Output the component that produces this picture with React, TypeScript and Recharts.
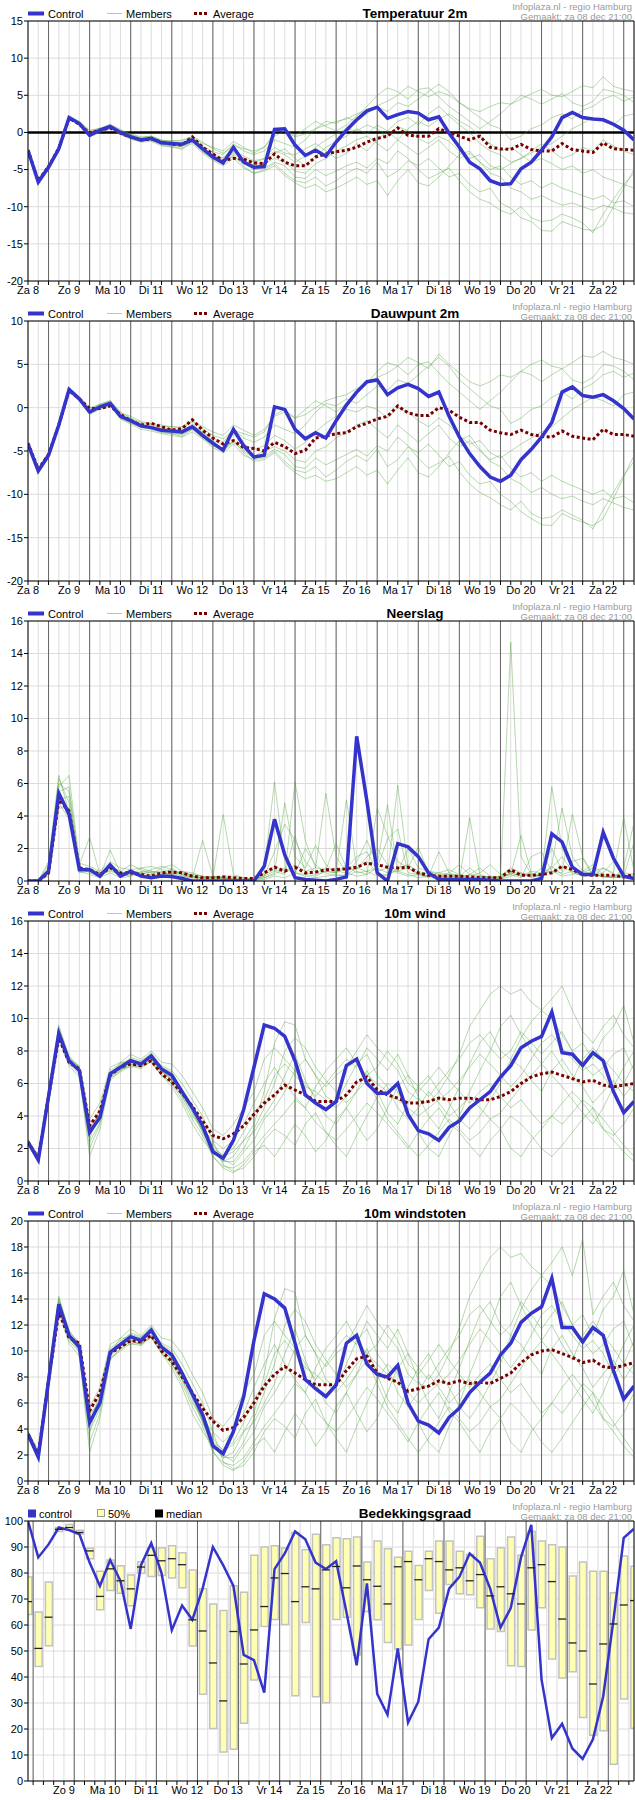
import React from 'react';
import { ComposedChart, Line, XAxis, YAxis, CartesianGrid, ReferenceLine, Bar, Scatter } from 'recharts';

// ---------- axes / labels ----------
const STEPS = Array.from({ length: 60 }, (_, i) => i);
const HALF_STEPS = Array.from({ length: 59 }, (_, i) => i + 0.5);
const DAY_LABELS = ['Za 8', 'Zo 9', 'Ma 10', 'Di 11', 'Wo 12', 'Do 13', 'Vr 14', 'Za 15', 'Zo 16', 'Ma 17', 'Di 18', 'Wo 19', 'Do 20', 'Vr 21', 'Za 22'];
const MIDNIGHTS = [2, 6, 10, 14, 18, 22, 26, 30, 34, 38, 42, 46, 50, 54, 58];
const COVER_MIDNIGHTS = [0.5, 4.5, 8.5, 12.5, 16.5, 20.5, 24.5, 28.5, 32.5, 36.5, 40.5, 44.5, 48.5, 52.5, 56.5];

const TEMP_TICKS = [-20, -15, -10, -5, 0, 5, 10, 15];
const DEW_TICKS = [-20, -15, -10, -5, 0, 5, 10];
const RAIN_TICKS = [0, 2, 4, 6, 8, 10, 12, 14, 16];
const WIND_TICKS = [0, 2, 4, 6, 8, 10, 12, 14, 16];
const GUST_TICKS = [0, 2, 4, 6, 8, 10, 12, 14, 16, 18, 20];
const COVER_TICKS = [0, 10, 20, 30, 40, 50, 60, 70, 80, 90, 100];

// ---------- Temperatuur 2m ----------
const tempControl = [-2.4, -6.7, -4.7, -2.2, 2.0, 1.2, -0.4, 0.3, 0.8, 0,
  -0.6, -1.0, -0.8, -1.4, -1.5, -1.6, -1.0, -2.2, -3.3, -4.1,
  -2.0, -4.0, -4.7, -4.6, 0.4, 0.5, -1.7, -3.1, -2.4, -3.2,
  -1.3, 0.3, 1.7, 2.9, 3.4, 1.9, 2.4, 2.8, 2.6, 1.7,
  2.1, -0.1, -2.0, -4.0, -4.9, -6.5, -7.0, -6.9, -4.9, -4.0,
  -2.4, -0.6, 2.0, 2.7, 2.0, 1.8, 1.7, 1.1, 0.3, -1.0];
const tempAverage = [-2.4, -6.5, -4.6, -2.1, 1.9, 1.1, -0.1, 0.3, 0.6, -0.1,
  -0.6, -1.0, -0.9, -1.3, -1.6, -1.7, -0.6, -2.0, -2.9, -3.8,
  -3.5, -3.6, -4.1, -4.2, -2.9, -4.0, -4.5, -4.5, -3.3, -2.9,
  -2.6, -2.4, -2.0, -1.3, -0.8, -0.5, 0.6, -0.4, -0.5, -0.5,
  0.5, 0.0, -0.5, -1.0, -0.5, -2.0, -2.2, -2.3, -1.6, -2.3,
  -2.5, -2.5, -1.5, -2.3, -2.5, -2.7, -1.4, -2.2, -2.3, -2.4];
const tempM1 = [-2.3, -6.2, -4.4, -2.0, 2.1, 1.4, 0.2, 0.6, 1.0, 0.3,
  -0.2, -0.6, -0.5, -1.0, -1.2, -1.0, -0.6, -1.5, -2.0, -2.5,
  -1.2, -2.0, -2.8, -2.0, -0.5, 0.2, -0.6, -0.2, 0.5, 1.0,
  1.5, 1.8, 2.5, 3.0, 3.6, 4.2, 5.0, 6.2, 5.5, 4.8,
  5.5, 5.0, 4.0, 3.2, 2.8, 3.5, 4.0, 3.8, 4.5, 5.2,
  5.8, 5.0, 4.8, 5.5, 6.3, 6.0, 7.5, 6.2, 5.8, 5.5];
const tempM2 = [-2.5, -6.9, -5.0, -2.5, 1.8, 1.0, -0.6, 0.0, 0.5, -0.3,
  -0.9, -1.3, -1.2, -1.8, -2.0, -2.1, -1.5, -2.8, -3.8, -4.5,
  -3.5, -4.8, -5.5, -5.0, -4.2, -5.5, -6.5, -6.8, -6.0, -7.2,
  -6.5, -5.5, -4.8, -5.5, -4.0, -6.0, -5.2, -3.8, -4.5, -3.5,
  -4.8, -6.0, -5.5, -7.0, -8.0, -7.5, -9.5, -10.2, -11.5, -12.0,
  -13.2, -13.3, -12.0, -12.5, -13.0, -13.2, -12.5, -10.0, -7.5, -5.0];
const tempM3 = [-2.2, -6.5, -4.6, -2.1, 2.2, 1.3, -0.2, 0.4, 0.9, 0.2,
  -0.4, -0.8, -0.6, -1.2, -1.3, -1.4, -0.8, -2.0, -3.0, -3.4,
  -2.2, -3.5, -4.0, -3.6, -2.5, -3.0, -4.0, -3.2, -2.0, -1.0,
  -0.2, 0.5, 0.2, 1.0, 0.5, -0.5, 0.8, 0.2, -0.8, -1.5,
  -0.5, -1.2, -2.5, -3.5, -3.0, -4.5, -5.0, -4.2, -3.5, -2.8,
  -2.0, -1.5, -0.5, 0.5, 1.2, 2.0, 1.5, 1.0, 2.2, 2.5];
const tempM4 = [-2.6, -6.6, -4.8, -2.3, 1.9, 1.1, -0.5, 0.2, 0.7, -0.2,
  -0.8, -1.2, -1.0, -1.7, -1.9, -2.3, -1.2, -2.6, -3.6, -4.2,
  -3.0, -4.6, -5.5, -5.2, -4.5, -5.8, -6.8, -7.5, -7.0, -8.0,
  -7.5, -6.8, -6.0, -7.0, -6.5, -8.5, -6.5, -5.0, -6.8, -7.2,
  -6.0, -4.5, -3.0, -2.5, -4.0, -5.5, -6.0, -7.5, -8.0, -9.0,
  -8.5, -9.2, -9.8, -9.5, -10.0, -10.5, -9.8, -10.2, -10.8, -11.0];
const tempM5 = [-2.4, -6.8, -4.7, -2.2, 2.0, 1.2, -0.3, 0.3, 0.7, 0.0,
  -0.5, -0.9, -0.7, -1.3, -1.4, -1.5, -0.7, -1.8, -2.6, -3.0,
  -1.5, -2.5, -3.0, -2.5, -1.0, -1.5, -2.0, -1.0, 0.5, 1.5,
  1.2, 2.0, 1.5, 2.5, 3.5, 2.8, 4.0, 3.5, 4.5, 5.5,
  6.5, 5.5, 4.0, 3.0, 2.0, 1.0, 0.5, -1.0, -0.5, 0.5,
  1.0, 2.0, 2.5, 1.8, 3.0, 3.5, 4.5, 5.0, 4.2, 4.8];
const tempM6 = [-2.4, -6.4, -4.5, -2.2, 2.1, 1.3, 0.0, 0.4, 0.8, 0.1,
  -0.6, -1.1, -0.9, -1.5, -1.7, -1.8, -1.2, -2.4, -3.2, -3.8,
  -2.8, -4.0, -4.8, -4.2, -3.5, -4.0, -5.2, -5.5, -4.2, -3.5,
  -2.5, -1.8, -1.0, -0.5, -1.5, -2.5, -1.0, -2.0, -3.0, -2.0,
  -1.0, -2.5, -3.5, -2.8, -4.0, -5.0, -4.5, -6.0, -7.0, -6.5,
  -7.5, -6.8, -7.5, -8.0, -8.5, -9.0, -8.5, -9.5, -9.2, -10.0];
const tempM7 = [-2.5, -6.6, -4.7, -2.4, 1.9, 1.1, -0.4, 0.1, 0.6, -0.2,
  -0.7, -1.2, -1.0, -1.6, -1.8, -1.9, -1.3, -2.6, -3.5, -4.0,
  -3.2, -4.2, -5.0, -4.8, -4.0, -4.5, -6.0, -6.2, -5.0, -5.8,
  -5.2, -4.5, -4.0, -4.8, -3.5, -4.2, -2.5, -3.5, -5.0, -6.2,
  -5.5, -4.8, -6.5, -8.0, -9.0, -9.5, -10.5, -11.0, -10.0, -11.5,
  -12.0, -11.8, -11.0, -11.5, -12.2, -13.5, -11.0, -9.0, -7.0, -5.5];
const tempM8 = [-2.3, -6.3, -4.5, -2.0, 2.2, 1.5, 0.3, 0.5, 1.1, 0.4,
  -0.3, -0.7, -0.5, -1.1, -1.1, -1.2, -0.5, -1.3, -2.2, -2.8,
  -1.8, -2.2, -2.5, -2.0, 0.0, 0.5, -0.5, 0.5, 1.5, 0.8,
  0.2, 1.0, 2.2, 3.5, 5.0, 6.0, 5.5, 4.5, 5.8, 6.0,
  4.8, 3.5, 2.5, 1.5, 0.5, 1.5, 2.5, 3.8, 5.0, 4.5,
  3.8, 4.5, 5.2, 4.0, 3.5, 4.2, 5.8, 5.5, 5.0, 4.0];
const tempM9 = [-2.4, -6.5, -4.6, -2.3, 2.0, 1.2, -0.2, 0.3, 0.9, 0.1,
  -0.6, -1.0, -0.8, -1.4, -1.6, -1.6, -0.9, -2.2, -3.3, -3.9,
  -2.6, -3.8, -4.4, -4.0, -2.8, -2.2, -3.5, -4.5, -3.2, -2.0,
  -1.2, -0.5, 0.5, -0.2, 1.0, 0.2, -1.0, 0.5, 1.5, 0.8,
  1.8, 2.5, 1.5, 0.8, -0.5, -1.5, -2.5, -2.0, -3.0, -4.0,
  -3.5, -4.2, -5.0, -4.5, -5.5, -5.0, -6.0, -6.5, -7.0, -7.5];
const tempM10 = [-2.5, -6.7, -4.8, -2.1, 2.1, 1.2, -0.3, 0.2, 0.8, 0.0,
  -0.5, -1.0, -0.9, -1.5, -1.5, -1.7, -1.0, -2.4, -3.2, -3.6,
  -2.3, -3.2, -3.8, -3.5, -2.0, -2.8, -3.0, -2.2, -1.5, -2.5,
  -3.5, -2.8, -1.5, -2.5, -1.0, 0.2, 1.5, 2.0, 1.0, 2.5,
  3.5, 2.2, 1.0, 0.0, -1.5, -2.5, -3.0, -4.0, -3.5, -2.5,
  -1.5, -2.5, -3.5, -3.0, -2.0, -2.5, -1.0, -1.8, -2.5, -3.0];

// ---------- Dauwpunt 2m ----------
const dewControl = [-4.2, -7.3, -5.5, -2.0, 2.1, 1.0, -0.5, 0.1, 0.5, -1.0,
  -1.5, -2.1, -2.3, -2.6, -2.7, -2.8, -2.2, -3.2, -4.1, -4.9,
  -2.5, -4.4, -5.7, -5.5, 0.1, -0.2, -2.5, -3.6, -2.9, -3.5,
  -1.5, 0.3, 1.8, 3.0, 3.2, 1.5, 2.3, 2.7, 2.2, 1.3,
  1.8, -1.0, -3.4, -5.3, -6.8, -8.0, -8.5, -7.8, -6.0, -4.8,
  -3.4, -1.7, 1.8, 2.4, 1.4, 1.2, 1.5, 0.8, -0.1, -1.3];
const dewAverage = [-4.1, -7.1, -5.4, -2.0, 2.0, 1.0, -0.1, -0.1, 0.2, -0.8,
  -1.5, -2.0, -1.8, -2.2, -2.6, -2.4, -1.4, -2.6, -3.5, -4.2,
  -3.8, -4.6, -4.7, -5.0, -4.0, -4.5, -5.3, -4.9, -3.5, -3.3,
  -3.0, -2.9, -2.2, -1.8, -1.3, -1.0, 0.2, -0.6, -0.9, -0.9,
  0.0, -0.3, -1.1, -1.7, -1.7, -2.6, -2.9, -3.1, -2.6, -3.1,
  -3.3, -3.4, -2.7, -3.3, -3.5, -3.7, -2.5, -3.1, -3.1, -3.3];
const dewM1 = [-4.0, -7.0, -5.2, -1.8, 2.2, 1.2, -0.2, 0.4, 0.8, -0.6,
  -1.0, -1.6, -1.8, -2.0, -2.2, -2.2, -1.5, -2.2, -2.8, -3.2,
  -2.0, -2.6, -3.2, -2.5, -1.0, -0.5, -1.2, -0.8, 0.0, 0.8,
  1.2, 1.5, 2.2, 2.8, 3.5, 4.0, 4.8, 5.8, 5.2, 4.5,
  6.2, 5.0, 4.0, 3.0, 2.5, 3.0, 3.8, 3.5, 4.2, 5.0,
  5.5, 4.8, 4.5, 5.2, 6.0, 5.8, 6.5, 5.8, 5.5, 5.0];
const dewM2 = [-4.4, -7.6, -5.8, -2.4, 1.8, 0.8, -0.8, -0.2, 0.2, -1.3,
  -1.9, -2.5, -2.7, -3.0, -3.2, -3.4, -2.8, -3.6, -4.6, -5.2,
  -4.2, -5.5, -6.0, -5.8, -5.0, -6.2, -7.2, -7.5, -6.8, -8.0,
  -7.2, -6.2, -5.5, -6.2, -4.8, -6.8, -6.0, -4.5, -5.2, -4.2,
  -5.5, -6.8, -6.2, -7.8, -8.8, -8.5, -10.0, -10.8, -12.0, -12.8,
  -13.5, -13.6, -12.2, -12.8, -13.2, -13.6, -12.8, -10.5, -8.0, -5.5];
const dewM3 = [-4.1, -7.2, -5.4, -2.0, 2.2, 1.1, -0.4, 0.2, 0.6, -0.9,
  -1.3, -1.9, -2.1, -2.4, -2.5, -2.6, -1.9, -2.9, -3.8, -4.3,
  -3.0, -4.2, -4.8, -4.4, -3.2, -3.8, -4.8, -4.0, -2.8, -1.8,
  -1.0, -0.2, -0.5, 0.2, -0.2, -1.2, 0.0, -0.5, -1.5, -2.2,
  -1.2, -2.0, -3.2, -4.2, -3.8, -5.2, -5.8, -5.0, -4.2, -3.5,
  -2.8, -2.2, -1.2, -0.2, 0.5, 1.2, 0.8, 0.2, 1.5, 1.8];
const dewM4 = [-4.3, -7.4, -5.6, -2.2, 1.9, 0.9, -0.7, 0.0, 0.3, -1.2,
  -1.8, -2.3, -2.5, -2.9, -3.0, -3.3, -2.5, -3.4, -4.4, -5.0,
  -3.8, -5.2, -6.2, -6.0, -5.2, -6.5, -7.5, -8.2, -7.8, -8.5,
  -8.2, -7.5, -6.8, -7.8, -7.2, -8.8, -7.2, -5.8, -7.5, -8.0,
  -6.8, -5.2, -3.8, -3.2, -4.8, -6.2, -6.8, -8.2, -8.8, -9.8,
  -9.2, -10.0, -10.5, -10.2, -10.8, -11.2, -10.5, -11.0, -11.5, -11.8];
const dewM5 = [-4.2, -7.3, -5.5, -2.1, 2.0, 1.0, -0.5, 0.1, 0.4, -1.0,
  -1.4, -2.0, -2.2, -2.5, -2.6, -2.7, -2.0, -2.8, -3.5, -4.0,
  -2.5, -3.5, -4.0, -3.4, -2.0, -2.5, -3.0, -2.0, -0.5, 0.5,
  0.2, 1.0, 0.5, 1.5, 2.5, 2.0, 3.2, 2.8, 3.8, 4.8,
  5.8, 4.8, 3.2, 2.2, 1.2, 0.2, -0.2, -1.8, -1.2, -0.2,
  0.2, 1.2, 1.8, 1.0, 2.2, 2.8, 3.8, 4.2, 3.5, 4.0];
const dewM6 = [-4.1, -7.1, -5.3, -2.0, 2.1, 1.1, -0.3, 0.3, 0.5, -0.9,
  -1.6, -2.2, -2.4, -2.7, -2.9, -3.0, -2.4, -3.3, -4.1, -4.8,
  -3.8, -4.8, -5.6, -5.0, -4.5, -5.0, -6.0, -6.3, -5.0, -4.5,
  -3.5, -2.8, -2.0, -1.5, -2.5, -3.5, -2.0, -3.0, -4.0, -3.0,
  -2.0, -3.5, -4.5, -3.8, -5.0, -6.0, -5.5, -7.0, -8.0, -7.5,
  -8.5, -7.8, -8.5, -9.0, -9.5, -10.0, -9.5, -10.5, -10.2, -11.0];
const dewM7 = [-4.3, -7.2, -5.6, -2.3, 1.9, 0.9, -0.6, -0.1, 0.3, -1.2,
  -1.7, -2.2, -2.4, -2.8, -3.0, -3.1, -2.5, -3.5, -4.4, -4.9,
  -4.0, -5.0, -5.8, -5.6, -4.8, -5.4, -6.8, -7.0, -5.8, -6.6,
  -6.0, -5.4, -4.8, -5.6, -4.4, -5.0, -3.4, -4.4, -5.8, -7.0,
  -6.4, -5.6, -7.4, -8.8, -9.8, -10.4, -11.2, -11.8, -10.8, -12.2,
  -12.8, -12.6, -11.8, -12.4, -13.0, -14.0, -11.8, -9.8, -7.8, -6.2];
const dewM8 = [-4.0, -7.0, -5.3, -1.9, 2.3, 1.3, 0.0, 0.4, 0.8, -0.5,
  -1.2, -1.7, -1.9, -2.2, -2.2, -2.4, -1.6, -2.4, -3.2, -3.6,
  -2.6, -3.0, -3.4, -2.8, -0.8, -0.2, -1.2, -0.2, 0.8, 0.2,
  -0.5, 0.5, 1.6, 2.8, 4.2, 5.2, 4.8, 3.8, 5.0, 5.3,
  4.0, 2.8, 1.8, 0.8, -0.2, 0.8, 1.8, 3.0, 4.2, 3.8,
  3.0, 3.8, 4.5, 3.2, 2.8, 3.5, 5.0, 4.8, 4.2, 3.2];

// ---------- Neerslag ----------
const rainControl = [0, 0, 0.6, 5.4, 4.1, 0.7, 0.7, 0.3, 1.0, 0.3,
  0.6, 0.3, 0.2, 0.3, 0.27, 0.15, 0, 0, 0, 0,
  0, 0, 0, 0.9, 3.8, 1.6, 0.2, 0.1, 0.05, 0,
  0.1, 0.25, 8.9, 4.9, 0.5, 0, 2.3, 2.1, 1.5, 0.5,
  0.1, 0.1, 0.1, 0.1, 0.1, 0.05, 0, 0, 0, 0,
  0.15, 2.9, 2.4, 0.85, 0.4, 0.4, 3.0, 1.4, 0.3, 0.15];
const rainAverage = [0, 0, 0.5, 5.0, 4.3, 0.8, 0.7, 0.4, 0.8, 0.5,
  0.5, 0.4, 0.3, 0.5, 0.55, 0.5, 0.3, 0.2, 0.2, 0.25,
  0.2, 0.15, 0.15, 0.5, 0.85, 0.6, 0.85, 0.5, 0.55, 0.7,
  0.7, 0.75, 0.85, 1.1, 1.0, 0.85, 0.8, 0.85, 0.5, 0.35,
  0.3, 0.3, 0.3, 0.25, 0.2, 0.2, 0.2, 0.7, 0.35, 0.35,
  0.4, 0.5, 0.9, 0.7, 0.4, 0.35, 0.35, 0.35, 0.25, 0.4];
const rainM1 = [0, 0, 0.8, 6.3, 4.8, 0.9, 0.6, 0.3, 1.9, 0.5,
  0.6, 0.5, 0.4, 0.8, 1.0, 0.6, 0.3, 0.2, 0.1, 0.2,
  0.1, 0.0, 0.0, 0.8, 6.1, 1.2, 0.5, 0.4, 0.3, 0.6,
  0.5, 0.8, 0.7, 1.5, 2.0, 1.0, 0.6, 0.8, 0.4, 0.2,
  0.2, 0.3, 0.2, 0.1, 0.1, 0.0, 0.1, 14.7, 1.5, 0.4,
  0.2, 0.8, 1.5, 0.6, 0.3, 0.5, 0.2, 0.3, 0.2, 0.4];
const rainM2 = [0, 0, 0.4, 5.5, 5.8, 1.0, 2.7, 0.4, 0.6, 0.4,
  0.3, 0.8, 0.6, 0.5, 0.3, 0.3, 0.2, 2.5, 0.3, 0.1,
  0.0, 0.1, 0.0, 0.2, 0.5, 4.8, 1.5, 0.8, 2.2, 1.0,
  0.5, 5.0, 0.8, 0.6, 0.3, 0.4, 5.9, 0.8, 0.5, 0.3,
  0.5, 0.4, 0.3, 0.8, 0.3, 0.2, 0.2, 0.4, 2.8, 0.5,
  0.3, 1.0, 4.5, 1.5, 0.6, 0.4, 0.3, 0.2, 0.8, 3.6];
const rainM3 = [0, 0, 1.2, 6.5, 4.2, 0.7, 0.8, 0.5, 0.9, 0.6,
  1.0, 0.7, 0.5, 0.3, 0.8, 0.4, 0.3, 0.2, 0.2, 4.1,
  0.4, 0.2, 0.1, 0.3, 0.6, 0.4, 6.1, 2.5, 0.8, 5.4,
  1.5, 0.5, 0.3, 0.4, 4.5, 2.8, 1.2, 0.8, 2.1, 0.5,
  0.3, 0.2, 0.1, 3.9, 0.4, 0.2, 0.1, 0.3, 0.5, 0.2,
  0.4, 5.8, 2.0, 0.8, 0.4, 0.3, 0.5, 1.2, 0.4, 0.2];
const rainM4 = [0, 0, 0.6, 4.8, 3.8, 0.8, 0.5, 0.3, 0.7, 0.3,
  0.4, 0.3, 0.3, 0.4, 0.5, 0.3, 0.2, 0.1, 0.2, 0.1,
  0.1, 0.0, 0.1, 0.3, 1.8, 3.5, 2.5, 1.2, 0.5, 0.8,
  0.6, 0.5, 1.2, 2.5, 1.0, 4.7, 0.6, 2.0, 0.8, 0.6,
  0.4, 0.3, 0.2, 0.4, 0.8, 0.3, 0.2, 0.5, 0.3, 0.6,
  0.5, 2.0, 0.6, 4.1, 1.5, 0.4, 0.3, 0.2, 0.3, 0.2];
const rainM5 = [0, 0, 0.3, 5.0, 5.2, 0.6, 0.4, 0.2, 0.5, 0.2,
  0.3, 0.6, 0.5, 0.6, 0.4, 0.5, 0.3, 0.2, 0.3, 0.2,
  0.1, 0.1, 0.0, 0.1, 0.3, 0.2, 0.5, 0.3, 0.2, 0.3,
  0.4, 0.3, 0.6, 0.4, 0.8, 0.5, 0.6, 0.4, 0.2, 0.3,
  1.8, 0.5, 0.3, 0.2, 0.3, 0.2, 0.3, 0.8, 0.5, 0.3,
  0.4, 0.6, 0.5, 1.2, 1.4, 0.3, 0.8, 0.4, 0.2, 0.3];
const rainM6 = [0, 0, 1.0, 5.8, 6.5, 1.1, 0.9, 0.6, 1.2, 0.8,
  0.7, 0.8, 0.9, 0.7, 0.6, 0.5, 0.4, 0.3, 0.2, 0.3,
  0.3, 0.2, 0.1, 0.5, 0.9, 0.6, 1.0, 0.6, 0.8, 0.7,
  2.3, 0.8, 1.5, 1.8, 0.6, 0.8, 0.5, 0.3, 0.4, 0.6,
  0.5, 0.7, 0.4, 0.3, 0.5, 1.0, 0.4, 0.6, 0.4, 0.3,
  0.8, 0.5, 0.9, 0.5, 0.3, 0.6, 0.8, 0.5, 3.9, 0.6];
const rainM7 = [0, 0, 0.5, 4.5, 4.5, 0.5, 0.6, 0.4, 0.8, 0.5,
  0.5, 0.4, 0.6, 0.5, 0.4, 0.6, 0.5, 0.3, 0.2, 0.2,
  0.2, 0.1, 0.1, 0.2, 0.4, 0.8, 0.4, 2.0, 1.0, 0.5,
  0.3, 0.4, 0.8, 1.2, 0.5, 0.3, 0.8, 1.0, 0.6, 0.4,
  0.3, 0.5, 1.0, 0.4, 0.3, 0.2, 0.3, 0.4, 0.2, 1.5,
  1.8, 0.6, 0.3, 0.4, 0.6, 1.0, 0.4, 0.3, 0.5, 0.4];
const rainM8 = [0, 0, 0.7, 6.0, 5.5, 0.8, 0.7, 0.3, 1.0, 0.4,
  0.5, 0.5, 0.7, 0.9, 0.7, 0.4, 0.2, 0.2, 0.3, 0.2,
  0.1, 0.1, 0.1, 0.4, 0.7, 0.5, 2.8, 0.5, 0.4, 0.6,
  0.5, 1.0, 0.5, 0.6, 0.8, 2.6, 3.2, 0.5, 0.4, 0.3,
  0.2, 0.4, 0.3, 0.2, 0.2, 0.3, 0.1, 0.5, 0.3, 0.4,
  0.3, 0.9, 0.4, 0.6, 0.5, 0.8, 0.3, 0.2, 0.3, 2.4];

// ---------- 10m wind ----------
const windControl = [2.4, 1.3, 5.2, 9.1, 7.4, 6.8, 3.0, 3.9, 6.6, 7.0,
  7.4, 7.2, 7.7, 6.9, 6.5, 5.5, 4.5, 3.4, 1.8, 1.4,
  2.5, 4.4, 7.0, 9.6, 9.4, 8.9, 7.4, 5.3, 4.8, 4.4,
  4.9, 7.1, 7.5, 6.0, 5.4, 5.4, 6.0, 4.1, 3.1, 2.9,
  2.5, 3.3, 3.7, 4.5, 5.0, 5.5, 6.4, 7.1, 8.2, 8.6,
  8.9, 10.4, 7.9, 7.8, 7.1, 7.9, 7.4, 5.5, 4.2, 4.9];
const windAverage = [2.4, 1.4, 5.2, 8.8, 7.3, 6.9, 3.4, 4.3, 6.5, 7.0,
  7.2, 7.1, 7.4, 6.6, 6.1, 5.4, 4.6, 3.7, 2.8, 2.6,
  2.9, 3.4, 4.1, 4.8, 5.3, 5.9, 5.6, 5.3, 4.9, 4.9,
  4.9, 5.3, 6.1, 6.4, 5.6, 5.3, 5.1, 4.8, 4.8, 4.9,
  5.1, 5.0, 5.1, 5.1, 5.0, 5.0, 5.2, 5.5, 6.0, 6.4,
  6.6, 6.7, 6.5, 6.3, 6.1, 6.2, 5.9, 5.8, 5.9, 6.0];
const windM1 = [2.5, 1.5, 5.5, 9.6, 7.6, 7.0, 2.6, 4.2, 6.8, 7.2,
  7.5, 7.3, 7.9, 7.0, 6.7, 5.6, 4.6, 3.5, 2.2, 1.5,
  1.8, 2.5, 3.5, 5.5, 8.5, 9.8, 9.6, 7.5, 6.5, 5.8,
  6.5, 7.0, 8.0, 9.0, 8.2, 7.5, 6.8, 5.5, 5.0, 4.8,
  5.5, 6.5, 7.8, 9.5, 10.5, 11.5, 12.0, 11.5, 11.8, 11.0,
  10.5, 10.0, 9.0, 8.0, 8.5, 7.5, 8.8, 9.5, 10.8, 8.5];
const windM2 = [2.3, 1.2, 5.0, 8.8, 7.2, 6.6, 1.5, 3.2, 6.2, 6.8,
  7.2, 7.0, 7.5, 6.6, 6.0, 5.0, 3.8, 2.8, 1.5, 0.9,
  0.8, 1.2, 2.0, 2.8, 3.5, 4.2, 5.0, 4.5, 3.6, 3.0,
  2.5, 3.2, 4.0, 4.8, 4.2, 3.5, 2.8, 2.0, 3.0, 3.8,
  4.5, 3.6, 3.0, 2.2, 1.5, 2.5, 3.2, 4.0, 3.5, 2.8,
  2.0, 1.5, 2.2, 3.0, 3.8, 4.5, 3.2, 2.5, 1.8, 1.2];
const windM3 = [2.6, 1.4, 5.3, 9.3, 7.5, 7.1, 3.5, 4.0, 6.5, 7.3,
  7.8, 7.5, 8.0, 7.3, 7.2, 6.5, 5.5, 4.5, 3.2, 2.8,
  3.5, 4.5, 5.5, 7.5, 8.2, 7.5, 6.8, 6.0, 5.2, 6.0,
  6.8, 7.5, 7.0, 8.2, 7.5, 6.8, 7.8, 6.5, 5.8, 5.2,
  6.0, 6.8, 7.5, 8.5, 9.0, 8.2, 7.5, 8.0, 9.2, 8.5,
  7.8, 8.5, 9.2, 8.0, 7.2, 6.5, 7.0, 7.8, 8.2, 6.8];
const windM4 = [2.2, 1.3, 5.1, 8.9, 7.3, 6.7, 2.8, 4.5, 6.4, 6.9,
  7.0, 7.1, 7.3, 6.5, 5.8, 4.8, 3.5, 2.5, 1.8, 1.2,
  1.5, 2.5, 3.0, 4.0, 5.0, 6.5, 7.8, 6.2, 5.0, 4.0,
  3.5, 4.5, 5.5, 6.8, 5.5, 4.2, 3.5, 4.8, 5.8, 6.5,
  5.5, 4.8, 3.8, 3.2, 4.0, 5.0, 6.0, 7.5, 7.0, 6.2,
  5.5, 6.8, 7.5, 6.5, 5.8, 4.8, 5.5, 6.2, 5.2, 6.0];
const windM5 = [2.4, 1.2, 5.2, 9.0, 7.4, 6.9, 3.2, 3.8, 6.7, 7.1,
  7.6, 7.4, 7.8, 6.8, 6.2, 5.2, 4.2, 3.0, 2.0, 1.6,
  2.0, 3.0, 4.2, 5.0, 6.5, 7.2, 6.5, 5.8, 5.5, 5.0,
  4.5, 5.2, 6.0, 6.5, 6.0, 5.5, 5.0, 4.5, 4.0, 4.5,
  5.0, 5.5, 6.2, 7.0, 7.8, 7.2, 6.5, 5.8, 6.5, 7.5,
  8.5, 9.0, 8.2, 7.5, 6.8, 7.2, 6.5, 5.5, 6.0, 5.5];
const windM6 = [2.5, 1.6, 5.6, 9.4, 7.7, 7.0, 3.8, 4.8, 7.0, 7.3,
  7.3, 7.2, 7.6, 7.1, 6.8, 6.0, 5.0, 4.0, 2.5, 1.0,
  0.6, 0.8, 1.5, 2.5, 3.2, 2.8, 2.2, 3.5, 4.2, 3.0,
  2.2, 1.5, 2.8, 4.0, 5.2, 6.0, 5.5, 4.2, 3.0, 2.0,
  1.5, 2.8, 4.0, 5.5, 6.8, 8.0, 9.5, 10.2, 9.0, 8.0,
  7.2, 6.5, 5.8, 5.0, 4.2, 3.5, 4.5, 5.8, 7.0, 8.0];
const windM7 = [2.3, 1.1, 4.9, 8.7, 7.1, 6.4, 2.0, 3.5, 6.3, 6.7,
  7.1, 6.9, 7.4, 6.5, 6.0, 5.2, 4.0, 3.2, 2.5, 2.0,
  2.5, 3.5, 4.8, 6.0, 7.0, 6.0, 5.2, 4.5, 5.8, 6.8,
  7.5, 8.2, 7.2, 6.5, 7.0, 8.0, 7.2, 6.0, 5.5, 6.2,
  7.0, 6.2, 5.5, 4.8, 5.5, 6.0, 5.2, 4.5, 5.0, 4.2,
  3.5, 4.0, 4.8, 5.5, 4.8, 4.0, 3.2, 2.8, 3.5, 4.5];
const windM8 = [2.4, 1.4, 5.4, 9.2, 7.5, 6.8, 3.3, 4.1, 6.6, 7.0,
  7.4, 7.3, 7.7, 6.9, 6.4, 5.4, 4.4, 3.3, 2.0, 1.3,
  1.0, 1.8, 2.5, 3.8, 4.5, 5.5, 6.8, 7.5, 6.5, 5.2,
  4.8, 6.0, 7.2, 7.8, 6.5, 5.8, 4.5, 3.8, 4.5, 5.5,
  4.8, 4.0, 4.5, 5.2, 4.5, 3.8, 4.2, 5.0, 5.8, 6.5,
  7.2, 8.0, 7.0, 6.2, 7.5, 8.2, 7.5, 6.8, 6.0, 7.2];
const windM9 = [2.3, 1.2, 5.0, 9.0, 7.3, 6.7, 2.4, 3.6, 6.4, 6.8,
  7.2, 7.0, 7.5, 6.7, 6.3, 5.3, 4.3, 3.0, 1.5, 0.8,
  0.5, 1.0, 1.8, 2.2, 1.5, 2.5, 3.5, 2.8, 1.8, 2.5,
  3.8, 4.5, 3.5, 2.5, 3.2, 4.5, 5.8, 6.5, 5.2, 4.0,
  3.2, 4.5, 5.8, 7.2, 8.5, 9.2, 8.0, 7.5, 8.8, 9.8,
  10.5, 11.2, 12.0, 10.5, 9.2, 8.5, 9.5, 10.2, 9.0, 8.2];
const windM10 = [2.5, 1.4, 5.3, 9.1, 7.4, 6.8, 3.1, 4.0, 6.6, 7.0,
  7.4, 7.2, 7.6, 6.8, 6.3, 5.4, 4.4, 3.1, 1.8, 1.2,
  1.2, 2.0, 3.2, 4.5, 6.0, 8.0, 8.8, 8.2, 7.0, 6.2,
  5.5, 4.8, 5.5, 6.2, 5.0, 3.8, 3.0, 2.2, 1.5, 2.2,
  3.0, 3.8, 3.2, 2.5, 3.0, 3.8, 3.2, 2.0, 1.5, 2.5,
  3.2, 4.0, 3.5, 4.2, 5.0, 4.5, 3.8, 3.0, 2.2, 1.5];

// ---------- 10m windstoten ----------
const gustControl = [3.6, 1.85, 7.7, 13.6, 11.2, 10.3, 4.5, 6.0, 9.9, 10.5,
  11.1, 10.8, 11.6, 10.3, 9.7, 8.3, 6.7, 5.1, 2.7, 2.1,
  3.8, 6.5, 10.8, 14.4, 14.0, 13.3, 10.6, 7.8, 7.1, 6.5,
  7.4, 10.6, 11.2, 9.0, 8.2, 8.0, 8.9, 6.0, 4.6, 4.3,
  3.7, 4.9, 5.6, 6.8, 7.6, 8.3, 9.7, 10.6, 12.2, 12.9,
  13.4, 15.6, 11.8, 11.8, 10.7, 11.8, 11.2, 8.5, 6.3, 7.3];
const gustAverage = [3.6, 2.0, 7.7, 13.0, 11.0, 10.6, 5.4, 6.8, 9.8, 10.3,
  10.8, 10.7, 11.2, 10.0, 9.2, 8.0, 6.8, 5.6, 4.6, 3.9,
  4.1, 4.9, 6.0, 7.3, 8.2, 8.8, 8.3, 7.8, 7.4, 7.4,
  7.4, 8.5, 9.4, 9.6, 8.3, 7.9, 7.6, 6.9, 7.1, 7.3,
  7.7, 7.5, 7.7, 7.5, 7.6, 7.5, 7.9, 8.3, 9.1, 9.7,
  10.0, 10.1, 9.8, 9.5, 9.1, 9.3, 8.8, 8.7, 8.9, 9.1];
const gustM1 = [3.8, 2.2, 8.2, 14.2, 11.5, 10.6, 3.8, 6.4, 10.2, 10.8,
  11.3, 11.0, 11.9, 10.5, 10.0, 8.5, 6.9, 5.3, 3.3, 2.3,
  2.8, 3.8, 5.2, 8.2, 12.5, 14.8, 14.5, 11.2, 9.8, 8.8,
  9.8, 10.5, 12.0, 13.5, 12.2, 11.2, 10.2, 8.2, 7.5, 7.2,
  8.2, 9.8, 11.8, 14.2, 15.8, 17.2, 18.0, 17.2, 17.5, 16.5,
  15.8, 15.0, 13.5, 12.0, 12.8, 11.2, 13.2, 14.2, 16.2, 12.8];
const gustM2 = [3.5, 1.8, 7.5, 13.2, 10.8, 9.9, 2.2, 4.8, 9.3, 10.2,
  10.8, 10.5, 11.2, 9.9, 9.0, 7.5, 5.7, 4.2, 2.2, 1.4,
  1.2, 1.8, 3.0, 4.2, 5.2, 6.3, 7.5, 6.8, 5.4, 4.5,
  3.8, 4.8, 6.0, 7.2, 6.3, 5.2, 4.2, 3.0, 4.5, 5.7,
  6.8, 5.4, 4.5, 3.3, 2.2, 3.8, 4.8, 6.0, 5.2, 4.2,
  3.0, 2.2, 3.3, 4.5, 5.7, 6.8, 4.8, 3.8, 2.7, 1.8];
const gustM3 = [3.9, 2.1, 8.0, 14.0, 11.2, 10.6, 5.2, 6.0, 9.8, 11.0,
  11.7, 11.2, 12.0, 11.0, 10.8, 9.8, 8.2, 6.8, 4.8, 4.2,
  5.2, 6.8, 8.2, 11.2, 12.3, 11.2, 10.2, 9.0, 7.8, 9.0,
  10.2, 11.2, 10.5, 12.3, 11.2, 10.2, 11.7, 9.8, 8.7, 7.8,
  9.0, 10.2, 11.2, 12.8, 13.5, 12.3, 11.2, 12.0, 13.8, 12.8,
  11.7, 12.8, 13.8, 12.0, 10.8, 9.8, 10.5, 11.7, 12.3, 10.2];
const gustM4 = [3.3, 2.0, 7.6, 13.4, 11.0, 10.0, 4.2, 6.8, 9.6, 10.4,
  10.5, 10.6, 11.0, 9.8, 8.7, 7.2, 5.2, 3.8, 2.7, 1.8,
  2.2, 3.8, 4.5, 6.0, 7.5, 9.8, 11.7, 9.3, 7.5, 6.0,
  5.2, 6.8, 8.2, 10.2, 8.2, 6.3, 5.2, 7.2, 8.7, 9.8,
  8.2, 7.2, 5.7, 4.8, 6.0, 7.5, 9.0, 11.2, 10.5, 9.3,
  8.2, 10.2, 11.2, 9.8, 8.7, 7.2, 8.2, 9.3, 7.8, 9.0];
const gustM5 = [3.6, 1.8, 7.8, 13.5, 11.1, 10.4, 4.8, 5.7, 10.0, 10.6,
  11.4, 11.1, 11.7, 10.2, 9.3, 7.8, 6.3, 4.5, 3.0, 2.4,
  3.0, 4.5, 6.3, 7.5, 9.8, 10.8, 9.8, 8.7, 8.2, 7.5,
  6.8, 7.8, 9.0, 9.8, 9.0, 8.2, 7.5, 6.8, 6.0, 6.8,
  7.5, 8.2, 9.3, 10.5, 11.7, 10.8, 9.8, 8.7, 9.8, 11.2,
  12.8, 13.5, 12.3, 11.2, 10.2, 10.8, 9.8, 8.2, 9.0, 8.2];
const gustM6 = [3.8, 2.4, 8.4, 14.1, 11.6, 10.5, 5.7, 7.2, 10.5, 11.0,
  11.0, 10.8, 11.4, 10.6, 10.2, 9.0, 7.5, 6.0, 3.8, 1.5,
  0.9, 1.2, 2.2, 3.8, 4.8, 4.2, 3.3, 5.2, 6.3, 4.5,
  3.3, 2.2, 4.2, 6.0, 7.8, 9.0, 8.2, 6.3, 4.5, 3.0,
  2.2, 4.2, 6.0, 8.2, 10.2, 12.0, 14.2, 15.3, 13.5, 12.0,
  10.8, 9.8, 8.7, 7.5, 6.3, 5.2, 6.8, 8.7, 10.5, 12.0];
const gustM7 = [3.4, 1.6, 7.4, 13.0, 10.6, 9.6, 3.0, 5.2, 9.4, 10.0,
  10.6, 10.4, 11.1, 9.8, 9.0, 7.8, 6.0, 4.8, 3.8, 3.0,
  3.8, 5.2, 7.2, 9.0, 10.5, 9.0, 7.8, 6.8, 8.7, 10.2,
  11.2, 12.3, 10.8, 9.8, 10.5, 12.0, 10.8, 9.0, 8.2, 9.3,
  10.5, 9.3, 8.2, 7.2, 8.2, 9.0, 7.8, 6.8, 7.5, 6.3,
  5.2, 6.0, 7.2, 8.2, 7.2, 6.0, 4.8, 4.2, 5.2, 6.8];
const gustM8 = [3.6, 2.1, 8.1, 13.8, 11.2, 10.2, 5.0, 6.2, 9.9, 10.5,
  11.1, 11.0, 11.6, 10.4, 9.6, 8.1, 6.6, 5.0, 3.0, 2.0,
  1.5, 2.7, 3.8, 5.7, 6.8, 8.2, 10.2, 11.2, 9.8, 7.8,
  7.2, 9.0, 10.8, 11.7, 9.8, 8.7, 6.8, 5.7, 6.8, 8.2,
  7.2, 6.0, 6.8, 7.8, 6.8, 5.7, 6.3, 7.5, 8.7, 9.8,
  10.8, 12.0, 10.5, 9.3, 11.2, 12.3, 11.2, 10.2, 9.0, 10.8];
const gustM9 = [3.5, 1.7, 7.5, 13.4, 11.0, 10.1, 3.8, 5.6, 9.5, 10.1,
  10.8, 10.5, 11.2, 10.0, 9.4, 8.0, 6.5, 4.6, 2.3, 1.2,
  0.8, 1.5, 2.7, 3.3, 2.2, 3.8, 5.2, 4.2, 2.7, 3.8,
  5.7, 6.8, 5.2, 3.8, 4.8, 6.8, 8.7, 9.8, 7.8, 6.0,
  4.8, 6.8, 8.7, 10.8, 12.8, 13.8, 12.0, 11.2, 13.2, 14.7,
  15.8, 16.8, 18.0, 15.8, 18.6, 12.8, 14.2, 15.3, 13.5, 12.3];
const gustM10 = [3.7, 2.1, 7.9, 13.7, 11.2, 10.3, 4.6, 6.0, 9.9, 10.5,
  11.1, 10.8, 11.5, 10.2, 9.5, 8.1, 6.6, 4.6, 2.7, 1.8,
  1.8, 3.0, 4.8, 6.8, 9.0, 12.0, 13.2, 12.3, 10.5, 9.3,
  8.2, 7.2, 8.2, 9.3, 7.5, 5.7, 4.5, 3.3, 2.2, 3.3,
  4.5, 5.7, 4.8, 3.8, 4.5, 5.7, 4.8, 3.0, 2.2, 3.8,
  4.8, 6.0, 5.2, 6.3, 7.5, 6.8, 5.7, 4.5, 3.3, 2.2];

// ---------- Bedekkingsgraad ----------
const coverControl = [100, 86, 91, 97.5, 96.5, 95, 84, 75, 85, 77,
  58.5, 83, 91.5, 80, 58, 67.5, 62, 74, 90, 83,
  75, 48.5, 46.5, 34, 81.5, 87.5, 96, 93, 84, 81.5,
  84.5, 65, 44.5, 76, 33.5, 25.5, 51, 22.5, 30.5, 54.5,
  59, 74, 78.5, 87.5, 84, 74, 59, 66.5, 86, 98.5,
  39, 16.5, 22, 12.5, 8.5, 16, 32.5, 62, 93.5, 97];
const coverLow = [64, 44, 52, 96, 96.5, 95, 85.5, 65.9, 73.3, 72.2,
  67.4, 79.9, 78.7, 79, 78.1, 74.3, 51.9, 33.4, 20.2, 11.2,
  12.2, 22.2, 38.8, 59.4, 62.1, 60.2, 32.8, 61, 32.4, 30.1,
  62.1, 63, 48.5, 65.2, 62, 53.3, 50.8, 52.3, 62.1, 73.3,
  64.5, 75.6, 72, 71.6, 66.6, 58.5, 57.5, 44.3, 44, 58.1,
  66.6, 46.9, 39.6, 42, 24.4, 17.6, 19.3, 6.4, 31.5, 20.3];
const coverHigh = [78.5, 65, 76.5, 97.5, 98.7, 96.4, 89.5, 80.7, 85, 82.8,
  79.2, 84.3, 89.7, 89.7, 90.5, 87.8, 81.2, 73.9, 68.1, 65.6,
  75.1, 72.6, 86.8, 90, 90.5, 89.6, 95.6, 88.9, 94.9, 90.9,
  93.6, 93.2, 93.8, 84.2, 92.3, 89.3, 86.1, 88.4, 82.9, 88.4,
  92.3, 92.3, 88.4, 87.1, 94.1, 85.5, 89.7, 93.8, 86.8, 96,
  92.3, 90.9, 90, 78.8, 84.2, 80.7, 80.7, 72.4, 86.5, 82.6];
const coverMedian = [69, 51, 63, 96.8, 97.5, 95.6, 88.5, 71, 81.6, 77,
  73.9, 82.3, 86.8, 84.7, 85.5, 83.2, 62, 57.7, 45.4, 30.8,
  57.5, 45, 58.1, 67.1, 78.1, 79.8, 69, 74.7, 73.9, 81.2,
  82.5, 74.3, 82.7, 77.4, 74.9, 68.1, 82.4, 84.4, 77.4, 85.5,
  84.4, 81.2, 82, 77, 79.4, 71.2, 74.7, 72, 68.1, 82,
  83.2, 76.7, 62.3, 53.1, 50, 37.3, 52.7, 60.4, 67.7, 69.4];

// ---------- styling ----------
const FONT = "'Liberation Sans', Arial, Helvetica, sans-serif";
const BLUE = '#3434cc';
const GREEN = '#4ea43c';
const DARKRED = '#7a0000';
const GRID = '#dcdcdc';
const DAYLINE = '#666666';

const XTick = (props: any) => {
  const { x, y, payload } = props;
  const v = payload.value;
  if (v % 4 !== 0) return <g />;
  return (
    <text x={x} y={y} dy="0.75em" textAnchor="middle" fontSize={11} fill="#000" fontFamily={FONT}>
      {DAY_LABELS[v / 4]}
    </text>
  );
};

const CoverXTick = (props: any) => {
  const { x, y, payload } = props;
  const v = payload.value;
  const k = (v - 3.5) / 4;
  if (!Number.isInteger(k)) return <g />;
  return (
    <text x={x} y={y} dy="0.75em" textAnchor="middle" fontSize={11} fill="#000" fontFamily={FONT}>
      {DAY_LABELS[k + 1]}
    </text>
  );
};

const InfoText = () => (
  <>
    <text x={632} y={10} textAnchor="end" fontSize={9.5} fill="#9a9a9a" fontFamily={FONT}>Infoplaza.nl - regio Hamburg</text>
    <text x={632} y={19.5} textAnchor="end" fontSize={9.5} fill="#9a9a9a" fontFamily={FONT}>Gemaakt: za 08 dec 21:00</text>
  </>
);

const Title = ({ title }: { title: string }) => (
  <text x={415} y={18} textAnchor="middle" fontSize={13.5} fontWeight="bold" fill="#000" fontFamily={FONT}>{title}</text>
);

const HEADER_STYLE: React.CSSProperties = { position: 'absolute', left: 0, top: 0, pointerEvents: 'none', overflow: 'visible' };

const EnsembleHeader = ({ title }: { title: string }) => (
  <svg width={635} height={24} style={HEADER_STYLE}>
    <line x1={28} x2={44} y1={13.5} y2={13.5} stroke={BLUE} strokeWidth={4} />
    <text x={48} y={17.5} fontSize={11} fill="#000" fontFamily={FONT}>Control</text>
    <line x1={107} x2={122} y1={13.5} y2={13.5} stroke="#a9d6a0" strokeWidth={1} />
    <text x={126} y={17.5} fontSize={11} fill="#000" fontFamily={FONT}>Members</text>
    <line x1={194} x2={209} y1={13.5} y2={13.5} stroke={DARKRED} strokeWidth={3} strokeDasharray="3 2" />
    <text x={213} y={17.5} fontSize={11} fill="#000" fontFamily={FONT}>Average</text>
    <Title title={title} />
    <InfoText />
  </svg>
);

const CoverHeader = () => (
  <svg width={635} height={24} style={HEADER_STYLE}>
    <rect x={28} y={9.5} width={8} height={8} fill={BLUE} />
    <text x={39} y={17.5} fontSize={11} fill="#000" fontFamily={FONT}>control</text>
    <rect x={97.5} y={9.5} width={7} height={7} fill="#ffffb3" stroke="#999" strokeWidth={1} />
    <text x={108} y={17.5} fontSize={11} fill="#000" fontFamily={FONT}>50%</text>
    <rect x={155} y={9.5} width={8} height={8} fill="#000" />
    <text x={166} y={17.5} fontSize={11} fill="#000" fontFamily={FONT}>median</text>
    <Title title="Bedekkingsgraad" />
    <InfoText />
  </svg>
);

type PanelProps = {
  title: string;
  control: number[];
  average: number[];
  members: number[][];
  yTicks: number[];
  zeroLine?: boolean;
};

const EnsemblePanel = ({ title, control, average, members, yTicks, zeroLine }: PanelProps) => {
  const rows = STEPS.map((i) => {
    const r: any = { t: i, control: control[i], average: average[i] };
    members.forEach((m, k) => { r['m' + k] = m[i]; });
    return r;
  });
  const yMin = yTicks[0];
  const yMax = yTicks[yTicks.length - 1];
  return (
    <div style={{ position: 'relative', width: 635, height: 300 }}>
      <ComposedChart width={635} height={300} data={rows} margin={{ top: 21, right: 1, bottom: 0, left: 0 }}>
        <CartesianGrid stroke={GRID} strokeWidth={1} />
        <XAxis type="number" dataKey="t" domain={[0, 59]} ticks={STEPS} interval={0} height={19}
          tickSize={4} tickMargin={1} stroke="#000" tick={XTick} allowDataOverflow />
        <YAxis type="number" domain={[yMin, yMax]} ticks={yTicks} interval={0} width={28} tickSize={4}
          tickMargin={1} stroke="#000" tick={{ fill: '#000', fontSize: 11, fontFamily: FONT }} allowDataOverflow />
        {MIDNIGHTS.map((m) => <ReferenceLine key={m} x={m} stroke={DAYLINE} strokeWidth={1} />)}
        <ReferenceLine y={yMax} stroke="#000" />
        <ReferenceLine x={59} stroke="#000" />
        {zeroLine && <ReferenceLine y={0} stroke="#000" strokeWidth={2.5} />}
        {members.map((_, k) => (
          <Line key={k} dataKey={'m' + k} stroke={GREEN} strokeOpacity={0.42} strokeWidth={1}
            dot={false} activeDot={false} isAnimationActive={false} />
        ))}
        <Line dataKey="average" stroke={DARKRED} strokeWidth={3} strokeDasharray="3 2.5" dot={false} activeDot={false} isAnimationActive={false} />
        <Line dataKey="control" stroke={BLUE} strokeWidth={3.5} dot={false} activeDot={false} isAnimationActive={false} />
      </ComposedChart>
      <EnsembleHeader title={title} />
    </div>
  );
};

const MedianMark = (p: any) => (
  <line x1={p.cx - 4} x2={p.cx + 4} y1={p.cy} y2={p.cy} stroke="#222" strokeWidth={1.3} />
);

const CoverPanel = () => {
  const rows = STEPS.map((i) => ({
    t: i,
    control: coverControl[i],
    range: [coverLow[i], coverHigh[i]],
    median: coverMedian[i],
  }));
  return (
    <div style={{ position: 'relative', width: 635, height: 300 }}>
      <ComposedChart width={635} height={300} data={rows} margin={{ top: 21, right: 1, bottom: 0, left: 0 }}>
        <CartesianGrid stroke={GRID} strokeWidth={1} />
        <XAxis type="number" dataKey="t" domain={[0, 59]} ticks={HALF_STEPS} interval={0} height={19}
          tickSize={4} tickMargin={1} stroke="#000" tick={CoverXTick} allowDataOverflow />
        <YAxis type="number" domain={[0, 100]} ticks={COVER_TICKS} interval={0} width={28} tickSize={4}
          tickMargin={1} stroke="#000" tick={{ fill: '#000', fontSize: 11, fontFamily: FONT }} allowDataOverflow />
        {COVER_MIDNIGHTS.map((m) => <ReferenceLine key={m} x={m} stroke={DAYLINE} strokeWidth={1} />)}
        <ReferenceLine y={100} stroke="#000" />
        <ReferenceLine x={59} stroke="#000" />
        <Bar dataKey="range" barSize={7} fill="#ffffb3" stroke="#c2c2c2" strokeWidth={1.5} isAnimationActive={false} />
        <Scatter dataKey="median" shape={MedianMark} isAnimationActive={false} />
        <Line dataKey="control" stroke={BLUE} strokeWidth={2.5} dot={false} activeDot={false} isAnimationActive={false} />
      </ComposedChart>
      <CoverHeader />
    </div>
  );
};

export default function App() {
  return (
    <div style={{ position: 'absolute', left: 0, top: 0, width: 635, background: '#fff', fontFamily: FONT }}>
      <EnsemblePanel title="Temperatuur 2m" control={tempControl} average={tempAverage}
        members={[tempM1, tempM2, tempM3, tempM4, tempM5, tempM6, tempM7, tempM8, tempM9, tempM10]} yTicks={TEMP_TICKS} zeroLine />
      <EnsemblePanel title="Dauwpunt 2m" control={dewControl} average={dewAverage}
        members={[dewM1, dewM2, dewM3, dewM4, dewM5, dewM6, dewM7, dewM8]} yTicks={DEW_TICKS} />
      <EnsemblePanel title="Neerslag" control={rainControl} average={rainAverage}
        members={[rainM1, rainM2, rainM3, rainM4, rainM5, rainM6, rainM7, rainM8]} yTicks={RAIN_TICKS} />
      <EnsemblePanel title="10m wind" control={windControl} average={windAverage}
        members={[windM1, windM2, windM3, windM4, windM5, windM6, windM7, windM8, windM9, windM10]} yTicks={WIND_TICKS} />
      <EnsemblePanel title="10m windstoten" control={gustControl} average={gustAverage}
        members={[gustM1, gustM2, gustM3, gustM4, gustM5, gustM6, gustM7, gustM8, gustM9, gustM10]} yTicks={GUST_TICKS} />
      <CoverPanel />
    </div>
  );
}
